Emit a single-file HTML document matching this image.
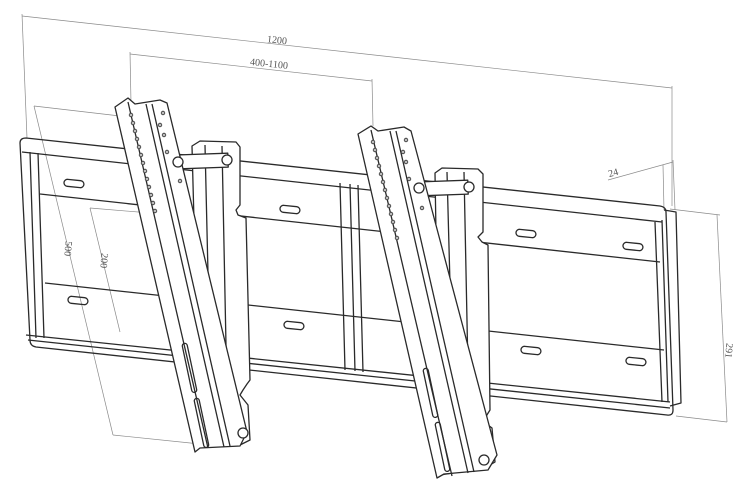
<!DOCTYPE html>
<html><head><meta charset="utf-8"><style>
html,body{margin:0;padding:0;background:#fff;}
svg{display:block}
.k{stroke:#2a2a2a;stroke-width:1.3;fill:none;stroke-linejoin:round}
.kf{stroke:#2a2a2a;stroke-width:1.3;fill:#fff;stroke-linejoin:round}
.d{stroke:#8a8a8a;stroke-width:0.7;fill:none}
.t{font-family:"Liberation Serif",serif;font-size:10px;fill:#555}
.h{fill:#bbb;stroke:#333;stroke-width:0.8}
</style></head><body>
<svg width="749" height="492" viewBox="0 0 749 492" xmlns="http://www.w3.org/2000/svg">
<!-- dimensions -->
<line class="d" x1="22" y1="16" x2="672" y2="88"/>
<line class="d" x1="22" y1="14" x2="27" y2="138"/>
<line class="d" x1="672" y1="86" x2="672" y2="206"/>
<text class="t" x="267" y="43" transform="rotate(6 275 40)">1200</text>
<line class="d" x1="130" y1="54" x2="372" y2="81"/>
<line class="d" x1="130" y1="52" x2="131" y2="103"/>
<line class="d" x1="372" y1="79" x2="373" y2="126"/>
<text class="t" x="250" y="67" transform="rotate(6 270 64)">400-1100</text>
<line class="d" x1="34" y1="106" x2="120" y2="116"/>
<line class="d" x1="34" y1="106" x2="113" y2="435"/>
<line class="d" x1="113" y1="435" x2="200" y2="444"/>
<text class="t" x="60" y="250" transform="rotate(95 67 248)">500</text>
<line class="d" x1="90" y1="208" x2="150" y2="213"/>
<line class="d" x1="90" y1="208" x2="120" y2="332"/>
<text class="t" x="96" y="262" transform="rotate(95 103 260)">200</text>
<line class="d" x1="608" y1="180" x2="673" y2="162"/>
<line class="d" x1="663" y1="165" x2="664" y2="210"/>
<line class="d" x1="673" y1="160" x2="675" y2="210"/>
<text class="t" x="608" y="176" transform="rotate(-15 613 172)">24</text>
<line class="d" x1="670" y1="209" x2="720" y2="215"/>
<line class="d" x1="676" y1="416" x2="727" y2="422"/>
<line class="d" x1="717" y1="215" x2="727" y2="422"/>
<text class="t" x="723" y="350" transform="rotate(95 728 348)">291</text>

<!-- frame -->
<path class="k" d="M20,143 Q20,138 26,138 L660,206 Q666,207 666,212 L673,410 Q673,416 667,415 L36,347 Q30,346 30,340 Z"/>
<path class="k" d="M22,152 L662,222"/>
<path class="k" d="M26,335 L670,402"/>
<path class="k" d="M28,340 L670,408"/>
<path class="k" d="M30,152 L36,338 M38,153 L44,338"/>
<path class="k" d="M40,194 L660,262"/>
<path class="k" d="M45,283 L664,350"/>
<path class="k" d="M340,183 L345,370 M350,184 L355,371 M358,185 L363,372"/>
<path class="k" d="M655,222 L662,402 M662,220 L668,402"/>
<path class="k" d="M664,210 L676,212 L681,403 L670,406"/>
<!-- slots -->
<g class="k">
<rect x="64" y="180" width="20" height="7" rx="3.5" transform="rotate(6 74 183)"/>
<rect x="68" y="297" width="20" height="7" rx="3.5" transform="rotate(6 78 300)"/>
<rect x="280" y="206" width="20" height="7" rx="3.5" transform="rotate(6 290 209)"/>
<rect x="284" y="322" width="20" height="7" rx="3.5" transform="rotate(6 294 325)"/>
<rect x="516" y="230" width="20" height="7" rx="3.5" transform="rotate(6 526 233)"/>
<rect x="623" y="243" width="20" height="7" rx="3.5" transform="rotate(6 633 246)"/>
<rect x="521" y="347" width="20" height="7" rx="3.5" transform="rotate(6 531 350)"/>
<rect x="626" y="358" width="20" height="7" rx="3.5" transform="rotate(6 636 361)"/>
</g>

<!-- left post -->
<path class="kf" d="M192,146 L200,141 L236,142 L240,147 L240,205 L236,210 L238,215 L246,218 L250,380 L247,384 L243,390 L240,395 L248,405 L250,440 L240,445 L200,447 Z"/>
<path class="k" d="M205,145 L212,445 M222,146 L228,445"/>
<rect class="kf" x="180" y="154" width="48" height="14" transform="rotate(-2 204 161)"/>
<!-- left arm -->
<path class="kf" d="M115,107 L128,98 L135,104 L160,100 L167,103 L247,432 L240,446 L200,448 L195,452 Z"/>
<path class="k" d="M128,102 L208,448 M146,104 L224,447 M152,104 L230,446"/>
<g class="h">
<circle cx="131" cy="115" r="1.8"/><circle cx="133" cy="123" r="1.8"/><circle cx="135" cy="131" r="1.8"/><circle cx="137" cy="139" r="1.8"/><circle cx="139" cy="147" r="1.8"/><circle cx="141" cy="155" r="1.8"/><circle cx="143" cy="163" r="1.8"/><circle cx="145" cy="171" r="1.8"/><circle cx="147" cy="179" r="1.8"/><circle cx="149" cy="187" r="1.8"/><circle cx="151" cy="195" r="1.8"/><circle cx="153" cy="203" r="1.8"/><circle cx="155" cy="211" r="1.8"/>
<circle cx="163" cy="113" r="1.8"/><circle cx="160" cy="125" r="1.8"/><circle cx="164" cy="135" r="1.8"/><circle cx="167" cy="152" r="1.8"/><circle cx="180" cy="181" r="1.8"/>
</g>
<rect class="k" x="187" y="343" width="5" height="50" rx="2.5" transform="rotate(-12 189 368)"/>
<rect class="k" x="199" y="398" width="5" height="50" rx="2.5" transform="rotate(-12 201 423)"/>
<g class="kf"><circle cx="178" cy="162" r="5"/><circle cx="227" cy="160" r="5"/><circle cx="243" cy="433" r="5"/></g>

<!-- right post -->
<path class="kf" d="M435,173 L442,168 L478,169 L483,174 L483,232 L478,237 L482,242 L488,245 L490,410 L485,418 L484,422 L492,428 L495,462 L485,468 L440,475 Z"/>
<path class="k" d="M447,172 L455,472 M464,172 L470,470"/>
<rect class="kf" x="420" y="181" width="48" height="14" transform="rotate(-2 444 188)"/>
<!-- right arm -->
<path class="kf" d="M358,134 L371,126 L378,131 L404,127 L411,131 L497,455 L488,470 L444,474 L437,478 Z"/>
<path class="k" d="M371,130 L452,476 M390,131 L468,473 M396,131 L474,472"/>
<g class="h">
<circle cx="373" cy="142" r="1.8"/><circle cx="375" cy="150" r="1.8"/><circle cx="377" cy="158" r="1.8"/><circle cx="379" cy="166" r="1.8"/><circle cx="381" cy="174" r="1.8"/><circle cx="383" cy="182" r="1.8"/><circle cx="385" cy="190" r="1.8"/><circle cx="387" cy="198" r="1.8"/><circle cx="389" cy="206" r="1.8"/><circle cx="391" cy="214" r="1.8"/><circle cx="393" cy="222" r="1.8"/><circle cx="395" cy="230" r="1.8"/><circle cx="397" cy="238" r="1.8"/>
<circle cx="406" cy="140" r="1.8"/><circle cx="403" cy="152" r="1.8"/><circle cx="406" cy="162" r="1.8"/><circle cx="409" cy="179" r="1.8"/><circle cx="422" cy="208" r="1.8"/>
</g>
<rect class="k" x="428" y="368" width="5" height="50" rx="2.5" transform="rotate(-12 430 393)"/>
<rect class="k" x="440" y="422" width="5" height="50" rx="2.5" transform="rotate(-12 442 447)"/>
<g class="kf"><circle cx="419" cy="188" r="5"/><circle cx="469" cy="187" r="5"/><circle cx="484" cy="460" r="5"/></g>
</svg>
</body></html>
